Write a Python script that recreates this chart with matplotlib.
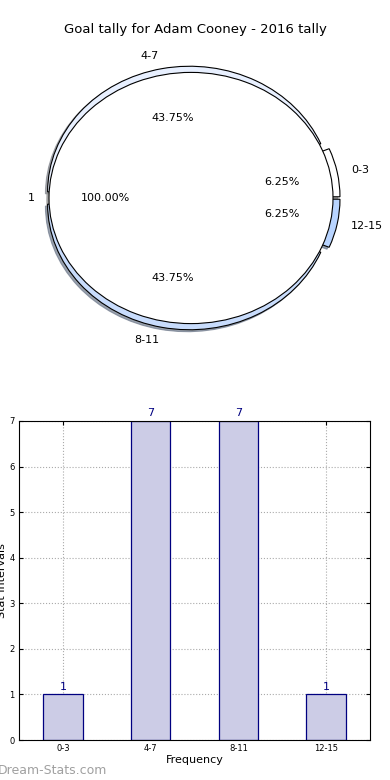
import matplotlib
matplotlib.use('Agg')
import matplotlib.pyplot as plt

title = 'Goal tally for Adam Cooney - 2016 tally'
intervals = ['0-3', '4-7', '8-11', '12-15']
counts = [1, 7, 7, 1]
ring_colors = ['#ffffff', '#e8f0ff', '#c8dcfc', '#b8d4ff']
total_label = ['1']
total_value = [16]


def main():
    fig = plt.figure(figsize=(3.9, 7.8), dpi=100)
    shade = {'ox': -0.011, 'oy': -0.011, 'shade': 0.45, 'alpha': 0.7}

    # pie: outer wedges exploded, inner whole pie drawn on top
    ax1 = fig.add_axes([13.5 / 390, 1 - 355 / 780, 355 / 390, 314 / 780])
    ax1.pie(counts, labels=intervals, colors=ring_colors, explode=[0.05] * 4,
            autopct='%1.2f%%', pctdistance=0.6, shadow=shade, startangle=0,
            wedgeprops={'linewidth': 0.8, 'edgecolor': 'black'},
            textprops={'fontsize': 8})
    ax1.pie(total_value, labels=total_label, colors=['white'],
            autopct='%1.2f%%', pctdistance=0.6, shadow=shade, startangle=0,
            wedgeprops={'linewidth': 0.8, 'edgecolor': 'black'},
            textprops={'fontsize': 8})
    ax1.set_aspect('auto')
    ax1.set_xlim(-1.25, 1.25)
    ax1.set_ylim(-1.25, 1.25)
    fig.text(0.5, 1 - 30 / 780, title, ha='center', va='center', fontsize=9.5)

    # bar chart
    ax2 = fig.add_axes([19 / 390, 1 - 740 / 780, 351 / 390, 319 / 780])
    xs = range(len(intervals))
    bars = ax2.bar(xs, counts, width=0.45, color='#ccccE6', edgecolor='navy',
                   linewidth=0.9, zorder=2)
    for b, v in zip(bars, counts):
        ax2.text(b.get_x() + b.get_width() / 2, v + 0.06, str(v), ha='center',
                 va='bottom', color='navy', fontsize=8)
    ax2.set_xlim(-0.5, 3.5)
    ax2.set_ylim(0, 7)
    ax2.set_xticks(list(xs))
    ax2.set_xticklabels(intervals)
    ax2.set_yticks(range(8))
    ax2.tick_params(labelsize=6, direction='in', top=True, right=True,
                    length=3, pad=3)
    ax2.grid(True, linestyle=':', color='#aaaaaa', linewidth=0.8, zorder=0)
    ax2.set_axisbelow(True)
    ax2.set_xlabel('Frequency', fontsize=8, labelpad=1)
    ax2.set_ylabel('Stat Intervals', fontsize=8, labelpad=2)

    fig.text(-2 / 390, 1 - 771 / 780, 'Dream-Stats.com', ha='left', va='center',
             fontsize=9, color='#a0a0a0')

    fig.savefig('out.png', dpi=100)


if __name__ == '__main__':
    main()
